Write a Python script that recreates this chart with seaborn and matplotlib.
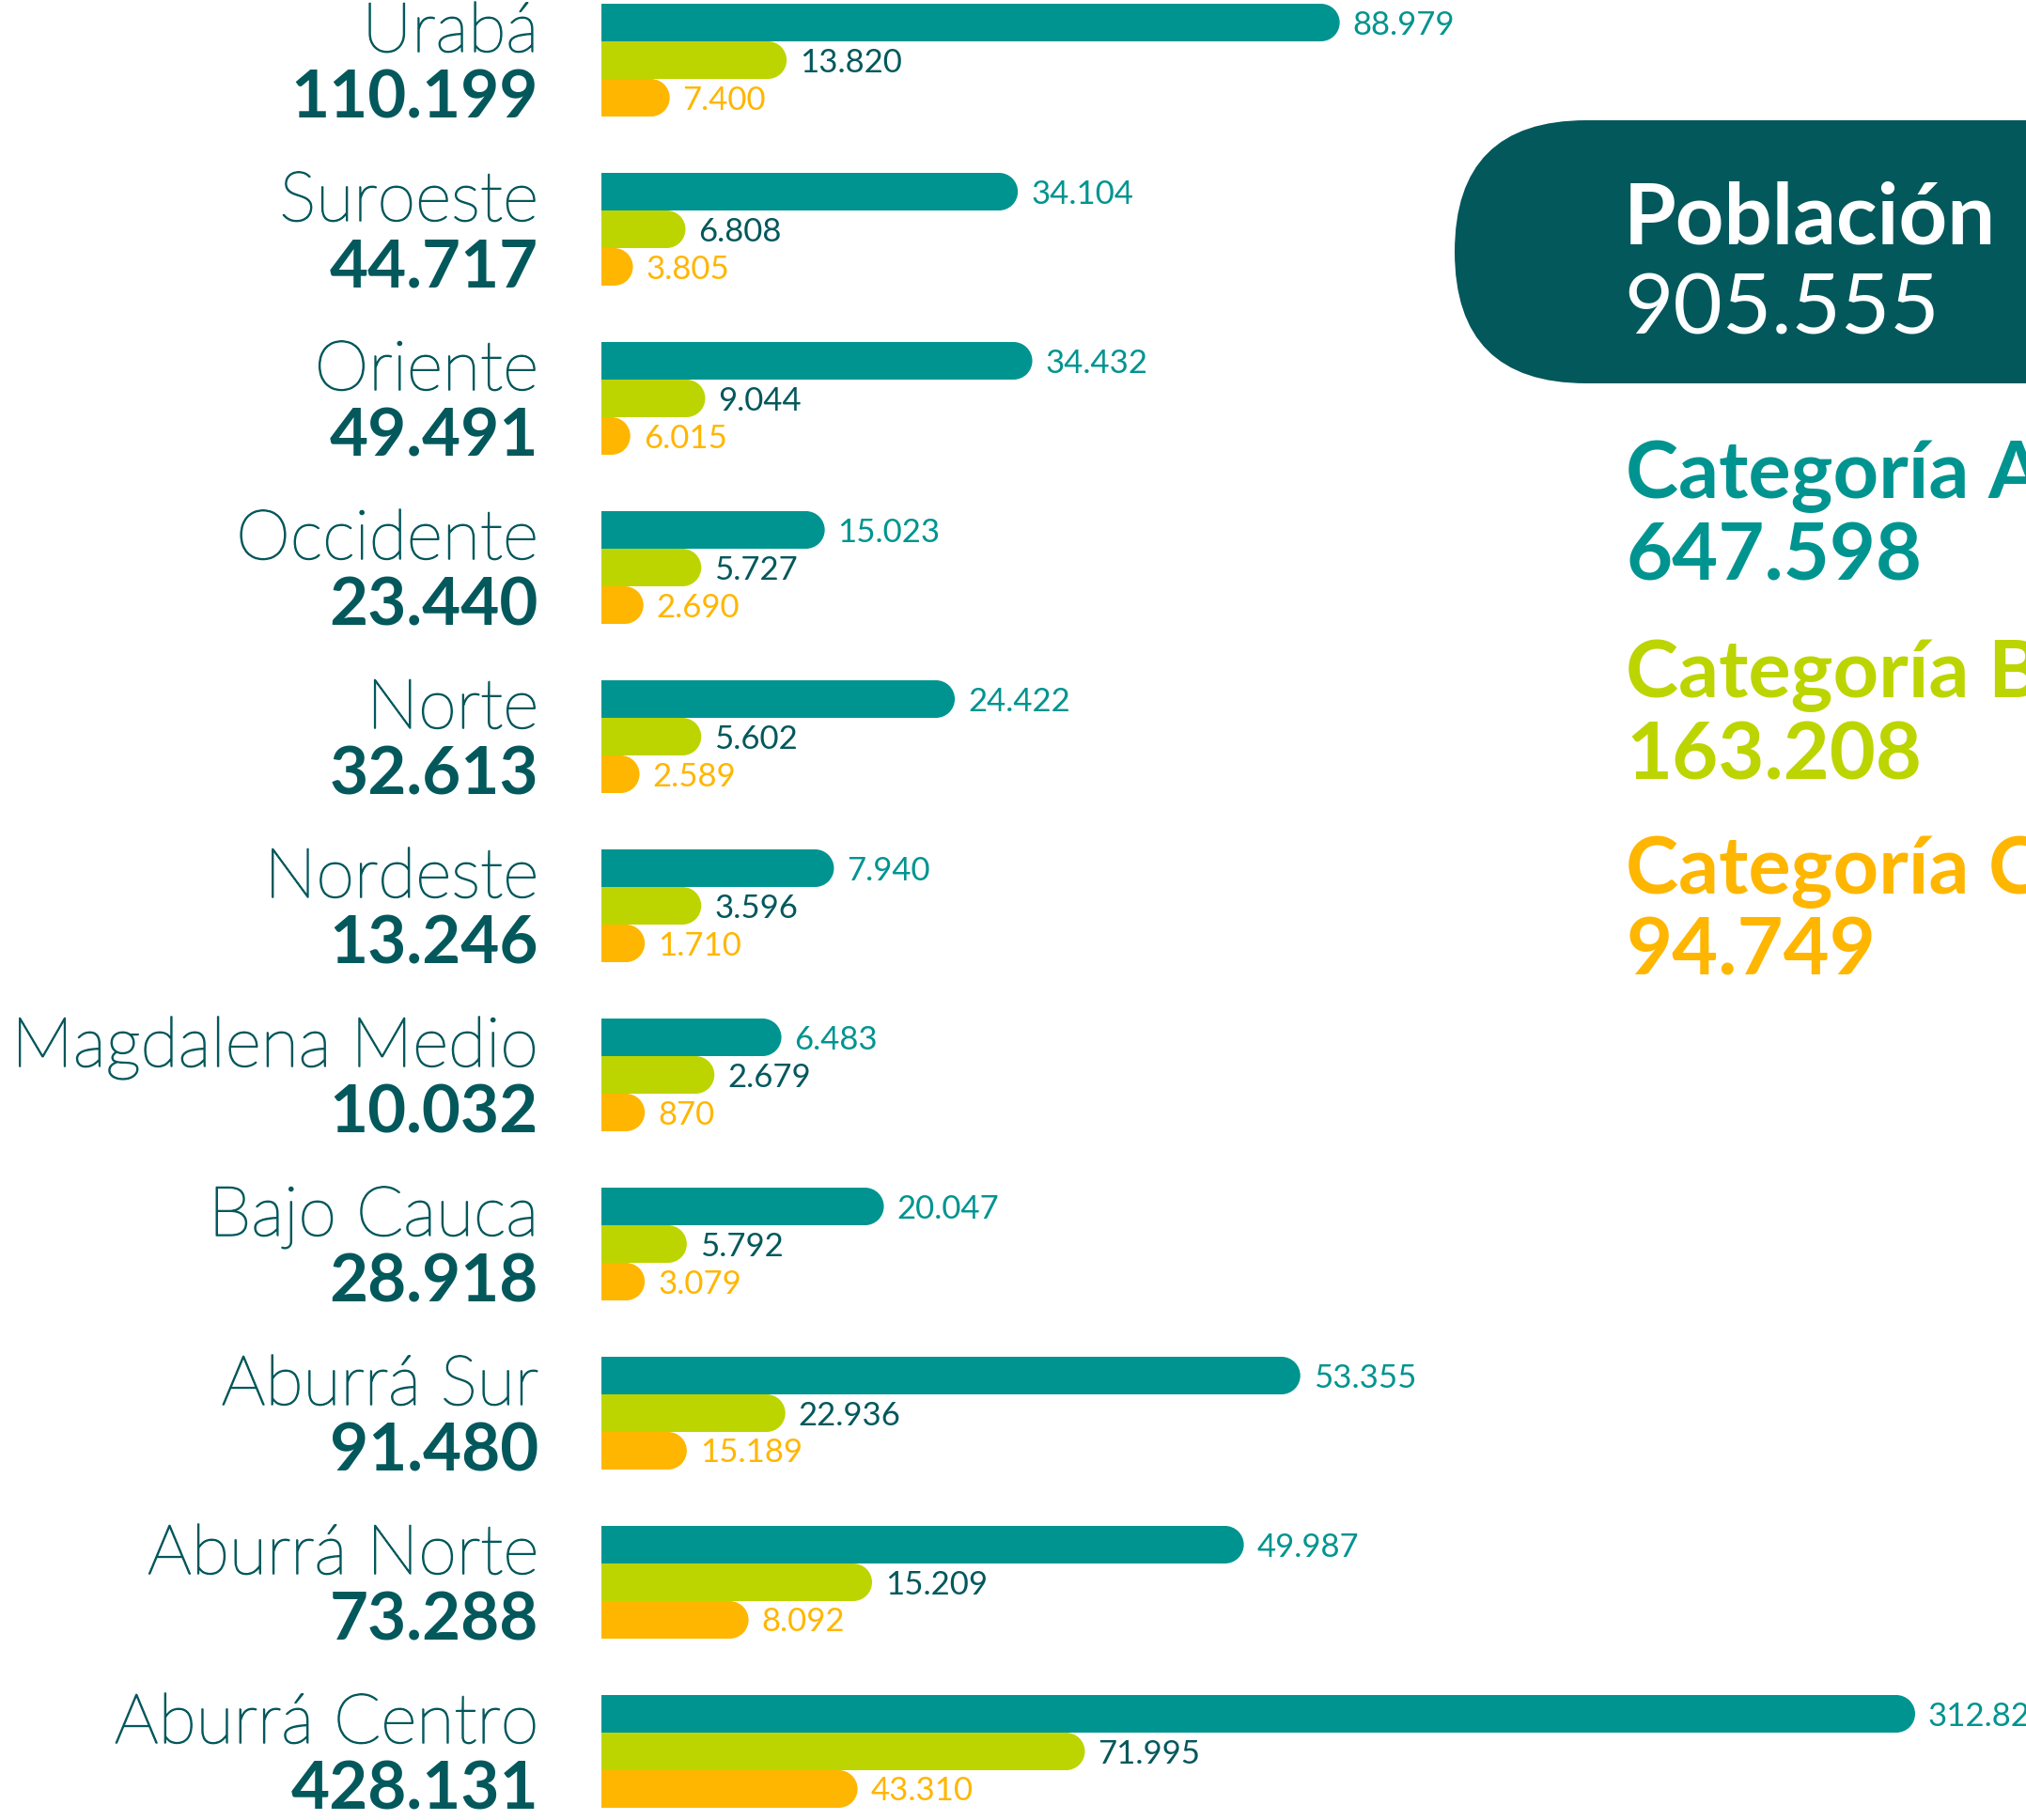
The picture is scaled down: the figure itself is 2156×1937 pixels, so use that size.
import seaborn as sns
import matplotlib.pyplot as plt
import matplotlib.transforms as mtrans
import matplotlib.patheffects as pe
from matplotlib.patches import Ellipse, FancyBboxPatch
import pandas as pd

# Population by subregion and category
regions = ['Urabá', 'Suroeste', 'Oriente', 'Occidente', 'Norte', 'Nordeste',
           'Magdalena Medio', 'Bajo Cauca', 'Aburrá Sur', 'Aburrá Norte', 'Aburrá Centro']
totals = ['110.199', '44.717', '49.491', '23.440', '32.613', '13.246',
          '10.032', '28.918', '91.480', '73.288', '428.131']
cat_a = ['88.979', '34.104', '34.432', '15.023', '24.422', '7.940',
         '6.483', '20.047', '53.355', '49.987', '312.820']
cat_b = ['13.820', '6.808', '9.044', '5.727', '5.602', '3.596',
         '2.679', '5.792', '22.936', '15.209', '71.995']
cat_c = ['7.400', '3.805', '6.015', '2.690', '2.589', '1.710',
         '870', '3.079', '15.189', '8.092', '43.310']

# bar lengths as drawn in the infographic (longest bar = 100), the original is not to scale
len_a = [56.2, 31.7, 32.8, 17.0, 26.9, 17.7, 13.7, 21.5, 53.2, 48.9, 100.0]
len_b = [14.1, 6.4, 7.9, 7.6, 7.6, 7.6, 8.6, 6.5, 14.0, 20.6, 36.8]
len_c = [5.2, 2.4, 2.2, 3.2, 2.9, 3.3, 3.3, 3.3, 6.5, 11.2, 19.5]

categories = ['Categoría A', 'Categoría B', 'Categoría C']
cat_totals = ['647.598', '163.208', '94.749']
pop_label = 'Población'
pop_total = '905.555'

TEAL = '#009490'
LIME = '#BCD500'
ORANGE = '#FFB600'
DARK = '#03585C'

df = pd.DataFrame({
    'region': regions * 3,
    'cat': [c for c in categories for _ in regions],
    'length': len_a + len_b + len_c,
})

plt.rcParams['font.family'] = ['Lato', 'DejaVu Sans']

W, H = 2156, 1937
fig = plt.figure(figsize=(W / 100, H / 100), dpi=100, facecolor='white')
ax = fig.add_axes([640 / W, 0, (W - 640) / W, 1])
sns.barplot(data=df, y='region', x='length', hue='cat', order=regions, hue_order=categories,
            palette=[TEAL, LIME, ORANGE], saturation=1, width=2 / 3, gap=0, orient='h',
            errorbar=None, legend=False, linewidth=0, ax=ax)
ax.set_xlim(0, 100 * (W - 640) / 1398)
ax.set_ylim((H - 64) / 180, -64 / 180)
ax.axis('off')

# value labels at the end of each bar
label_sets = [cat_a, cat_b, cat_c]
label_cols = [TEAL, DARK, ORANGE]
for cont, labels, col in zip(ax.containers, label_sets, label_cols):
    for bar, lab in zip(cont, labels):
        x1 = bar.get_x() + bar.get_width()
        yc = bar.get_y() + bar.get_height() / 2
        ax.annotate(lab, (x1, yc), xytext=(10, -9), textcoords='offset points',
                    ha='left', va='baseline', fontsize=25, color=col,
                    annotation_clip=False)

# round right end on every bar
rx = 20 * ax.get_xlim()[1] / (W - 640)
for cont in ax.containers:
    for bar in cont:
        w, y, h = bar.get_width(), bar.get_y(), bar.get_height()
        bar.set_width(w - rx)
        ax.add_patch(Ellipse((w - rx, y + h / 2), 2 * rx, h,
                             facecolor=bar.get_facecolor(), lw=0))

# overlay in pixel units for the text blocks
ov = fig.add_axes([0, 0, 1, 1])
ov.set_xlim(0, W)
ov.set_ylim(H, 0)
ov.axis('off')
ov.patch.set_alpha(0)

tr = mtrans.blended_transform_factory(ov.transData, ax.transData)
thicken = [pe.withStroke(linewidth=1.1, foreground=DARK)]
for i, (name, tot) in enumerate(zip(regions, totals)):
    ov.text(573, i - 0.050, name, transform=tr, ha='right', va='baseline',
            fontsize=53, fontweight='light', color=DARK, path_effects=thicken)
    ov.text(573, i + 0.339, tot, transform=tr, ha='right', va='baseline',
            fontsize=51, fontweight='bold', color=DARK)

ov.add_patch(FancyBboxPatch((1548, 128), 900, 280, boxstyle='round,pad=0,rounding_size=140',
                            facecolor=DARK, lw=0))
ov.text(1728, 259, pop_label, ha='left', va='baseline', fontsize=65, fontweight='bold', color='white')
ov.text(1728, 356, pop_total, ha='left', va='baseline', fontsize=65, color='white')

for cat, tot, col, yb in zip(categories, cat_totals, [TEAL, LIME, ORANGE], [530, 742, 951]):
    ov.text(1730, yb, cat, ha='left', va='baseline', fontsize=61, fontweight='bold', color=col)
    ov.text(1730, yb + 87, tot, ha='left', va='baseline', fontsize=61, fontweight='bold', color=col)

fig.savefig('out.png', dpi=100)
